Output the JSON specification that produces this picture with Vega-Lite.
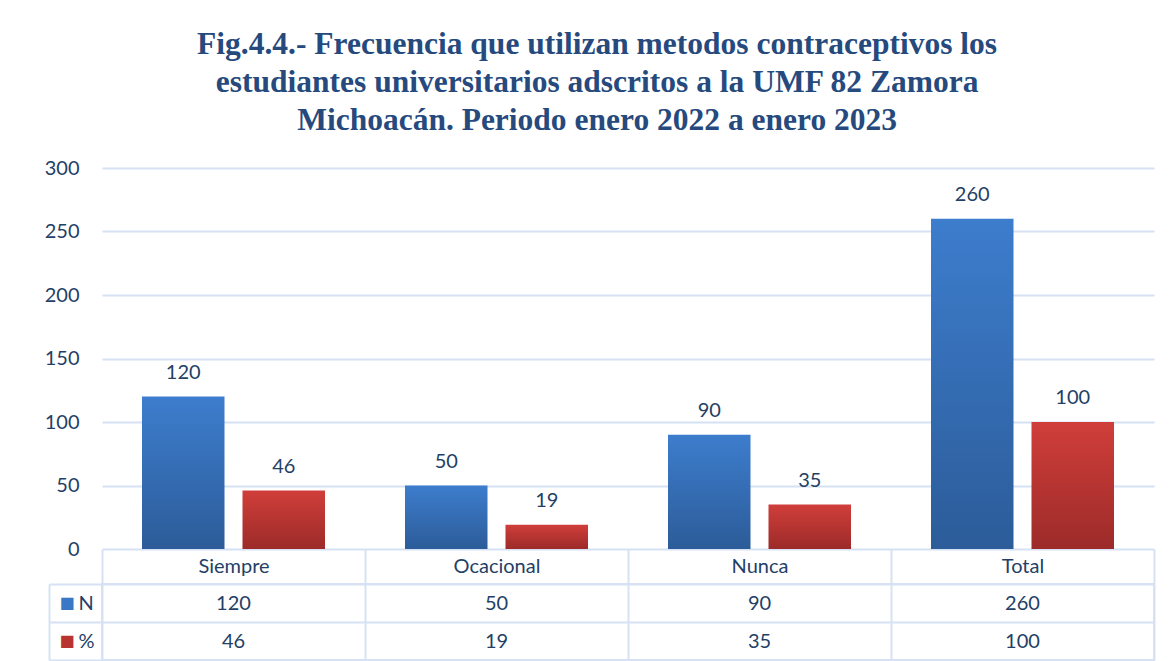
{
  "$schema": "https://vega.github.io/schema/vega-lite/v6.json",
  "background": "white",
  "padding": {"left": 44, "top": 28, "right": 20, "bottom": 0},
  "autosize": {"type": "pad"},
  "bounds": "flush",
  "spacing": 35,
  "title": {
    "text": ["Fig.4.4.- Frecuencia que utilizan metodos contraceptivos los", "estudiantes universitarios adscritos a la UMF 82 Zamora", "Michoacán. Periodo enero 2022 a enero 2023"],
    "font": "Liberation Serif",
    "fontSize": 31.5,
    "fontWeight": "bold",
    "color": "#264a7d",
    "lineHeight": 38,
    "anchor": "middle",
    "frame": "bounds",
    "dx": -3,
    "offset": 22
  },
  "datasets": {
    "d": [
      {"cat": "Siempre", "serie": "N", "value": 120},
      {"cat": "Siempre", "serie": "%", "value": 46},
      {"cat": "Ocacional", "serie": "N", "value": 50},
      {"cat": "Ocacional", "serie": "%", "value": 19},
      {"cat": "Nunca", "serie": "N", "value": 90},
      {"cat": "Nunca", "serie": "%", "value": 35},
      {"cat": "Total", "serie": "N", "value": 260},
      {"cat": "Total", "serie": "%", "value": 100}
    ]
  },
  "vconcat": [
    {
      "width": 1052,
      "height": 381,
      "data": {"name": "d"},
      "view": {"stroke": null},
      "encoding": {
        "x": {"field": "cat", "type": "nominal", "sort": ["Siempre", "Ocacional", "Nunca", "Total"], "scale": {"paddingInner": 0, "paddingOuter": 0}, "axis": null},
        "xOffset": {"field": "serie", "type": "nominal", "sort": ["N", "%"], "scale": {"paddingInner": 0.179, "paddingOuter": 0.398}},
        "y": {"field": "value", "type": "quantitative", "scale": {"domain": [0, 300], "nice": false},
          "axis": {"values": [0, 50, 100, 150, 200, 250, 300], "title": null, "ticks": false, "domain": false, "grid": true, "gridColor": "#d6e2f3", "gridWidth": 2, "labelPadding": 23, "labelFontSize": 20, "labelFont": "Lato", "labelColor": "#243f66"}}
      },
      "layer": [
        {
          "mark": {"type": "bar"},
          "encoding": {
            "fill": {
              "condition": {"test": "datum.serie === 'N'", "value": {"gradient": "linear", "x1": 0, "y1": 0, "x2": 0, "y2": 1, "stops": [{"offset": 0, "color": "#3d7dcd"}, {"offset": 1, "color": "#2c5c99"}]}},
              "value": {"gradient": "linear", "x1": 0, "y1": 0, "x2": 0, "y2": 1, "stops": [{"offset": 0, "color": "#d03e3a"}, {"offset": 1, "color": "#9c2b29"}]}
            }
          }
        },
        {
          "mark": {"type": "text", "dy": -24, "baseline": "middle", "font": "Lato", "fontSize": 20, "color": "#243f66"},
          "encoding": {"text": {"field": "value", "type": "quantitative"}}
        }
      ]
    },
    {
      "width": 1052,
      "height": 76,
      "data": {"name": "d"},
      "view": {"stroke": "#d6e2f3", "strokeWidth": 2},
      "encoding": {
        "x": {"field": "cat", "type": "nominal", "sort": ["Siempre", "Ocacional", "Nunca", "Total"], "scale": {"paddingInner": 0, "paddingOuter": 0},
          "axis": {"orient": "top", "title": null, "domain": false, "grid": true, "gridColor": "#d6e2f3", "gridWidth": 2, "tickBand": "extent", "ticks": true, "tickSize": 35, "tickColor": "#d6e2f3", "tickWidth": 2, "labelPadding": -17, "labelBaseline": "middle", "labelAngle": 0, "labelFontSize": 20, "labelFont": "Lato", "labelColor": "#243f66"}},
        "text": {"field": "value", "type": "quantitative"}
      },
      "layer": [
        {
          "mark": {"type": "text", "baseline": "middle", "dy": 1, "font": "Lato", "fontSize": 20, "color": "#243f66"},
          "encoding": {
            "y": {"field": "serie", "type": "nominal", "sort": ["N", "%"], "scale": {"paddingInner": 0, "paddingOuter": 0},
              "axis": {"orient": "left", "title": null, "domain": false, "grid": true, "gridColor": "#d6e2f3", "gridWidth": 2, "tickBand": "extent", "ticks": true, "tickSize": 53, "tickColor": "#d6e2f3", "tickWidth": 2, "labelPadding": -29, "labelAlign": "left", "labelBaseline": "middle", "labelFontSize": 20, "labelFont": "Lato", "labelColor": "#243f66"}}
          }
        },
        {
          "mark": {"type": "text", "opacity": 0},
          "encoding": {
            "y": {"field": "serie", "type": "nominal", "sort": ["N", "%"],
              "axis": {"orient": "left", "offset": 53, "title": null, "domain": true, "domainColor": "#d6e2f3", "domainWidth": 2, "ticks": false, "grid": false, "labelExpr": "'■'", "labelPadding": -10, "labelAlign": "left", "labelBaseline": "middle", "labelFontSize": 16, "labelFont": "DejaVu Sans",
                "labelColor": {"condition": {"test": "datum.value === 'N'", "value": "#3a77c6"}, "value": "#b83430"}}}
          }
        }
      ],
      "resolve": {"axis": {"y": "independent"}}
    }
  ]
}
